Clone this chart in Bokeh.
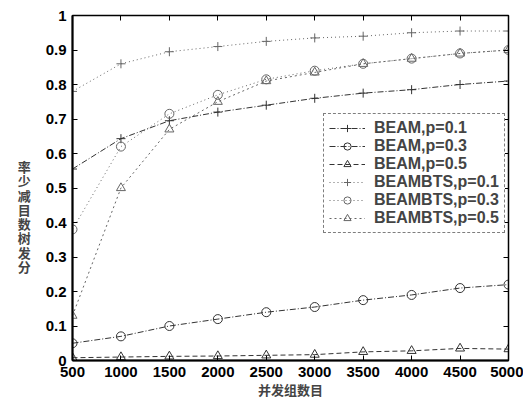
from bokeh.plotting import figure
from bokeh.models import FixedTicker, LinearAxis, Legend, LegendItem, Range1d, CustomJSTickFormatter
from bokeh.embed import file_html
from bokeh.resources import INLINE

groups = [500, 1000, 1500, 2000, 2500, 3000, 3500, 4000, 4500, 5000]
beam_p01 = [0.555, 0.643, 0.695, 0.72, 0.74, 0.76, 0.775, 0.785, 0.80, 0.81]
beam_p03 = [0.05, 0.07, 0.10, 0.12, 0.14, 0.155, 0.175, 0.19, 0.21, 0.22]
beam_p05 = [0.008, 0.01, 0.012, 0.013, 0.015, 0.017, 0.025, 0.028, 0.035, 0.033]
bts_p01 = [0.78, 0.86, 0.895, 0.91, 0.925, 0.935, 0.94, 0.95, 0.955, 0.955]
bts_p03 = [0.38, 0.62, 0.715, 0.77, 0.815, 0.84, 0.86, 0.875, 0.89, 0.90]
bts_p05 = [0.13, 0.50, 0.67, 0.75, 0.81, 0.835, 0.86, 0.875, 0.89, 0.90]
labels = ["BEAM,p=0.1", "BEAM,p=0.3", "BEAM,p=0.5",
          "BEAMBTS,p=0.1", "BEAMBTS,p=0.3", "BEAMBTS,p=0.5"]
x_label = "并发组数目"
y_chars = ["率", "少", "减", "目", "数", "树", "发", "分"]
y_label = "\n".join(["\u3000"] * 4 + y_chars)

p = figure(frame_width=436, frame_height=345, output_backend="svg", toolbar_location=None,
           x_range=Range1d(500, 5000), y_range=Range1d(0, 1),
           min_border_left=72, min_border_right=15, min_border_top=15, min_border_bottom=20)
p.grid.visible = False
p.outline_line_color = "black"
p.outline_line_width = 1.5
p.background_fill_color = "white"
p.border_fill_color = "white"

series = [beam_p01, beam_p03, beam_p05, bts_p01, bts_p03, bts_p05]
dashes = ["6 2 1 2", "6 2 1 2", "5 3", "1 3", "1 3", "2 3"]
markers = ["cross", "circle", "triangle", "cross", "circle", "triangle"]
colors = ["#333333", "#333333", "#333333", "#666666", "#666666", "#666666"]
items = []
for ys, d, m, c, lab in zip(series, dashes, markers, colors, labels):
    r1 = p.line(groups, ys, line_color=c, line_dash=d, line_width=1)
    r2 = p.scatter(groups, ys, marker=m, size=9, line_color=c, fill_color=None, line_width=1)
    items.append(LegendItem(label=lab, renderers=[r1, r2]))

legend = Legend(items=items, location=(251, 127))
legend.label_text_font = "Liberation Sans"
legend.label_text_font_style = "bold"
legend.label_text_font_size = "16px"
legend.label_height = 18
legend.glyph_height = 18
legend.glyph_width = 36
legend.label_standoff = 9
legend.spacing = 0
legend.padding = 5
legend.margin = 0
legend.border_line_color = "black"
legend.border_line_dash = "3 1"
legend.background_fill_alpha = 1
p.add_layout(legend)

xt = FixedTicker(ticks=groups)
yt = FixedTicker(ticks=[i / 10 for i in range(11)])
p.xaxis.ticker = xt
p.yaxis.ticker = yt
p.yaxis.major_label_overrides = {0: "0", 1: "1"}

for ax in [p.xaxis[0], p.yaxis[0]]:
    ax.major_tick_in = 5
    ax.major_tick_out = 0
    ax.minor_tick_line_color = None
    ax.axis_line_width = 2
    ax.axis_line_color = "black"
    ax.major_label_text_font = "Liberation Sans"
    ax.major_label_text_font_style = "bold"
    ax.major_label_text_font_size = "15px"
    ax.major_label_text_color = "black"
    ax.axis_label_text_font = "Noto Sans CJK SC"
    ax.axis_label_text_font_style = "bold"
    ax.axis_label_text_font_size = "13px"

p.xaxis.major_label_standoff = 6
p.yaxis.major_label_standoff = 6
p.xaxis.axis_label = x_label
p.xaxis.axis_label_standoff = 0
p.yaxis.axis_label = y_label
p.yaxis.axis_label_orientation = "horizontal"
p.yaxis.axis_label_text_line_height = 0.75
p.yaxis.axis_label_standoff = 12

top = LinearAxis(ticker=xt, formatter=CustomJSTickFormatter(code="return ''"),
                 major_label_standoff=0, major_tick_in=5,
                 major_tick_out=0, minor_tick_line_color=None, axis_line_color="black")
right = LinearAxis(ticker=yt, formatter=CustomJSTickFormatter(code="return ''"),
                   major_label_standoff=0, major_tick_in=5,
                   major_tick_out=0, minor_tick_line_color=None, axis_line_color="black")
p.add_layout(top, "above")
p.add_layout(right, "right")

open("out.html", "w").write(file_html(p, INLINE))
